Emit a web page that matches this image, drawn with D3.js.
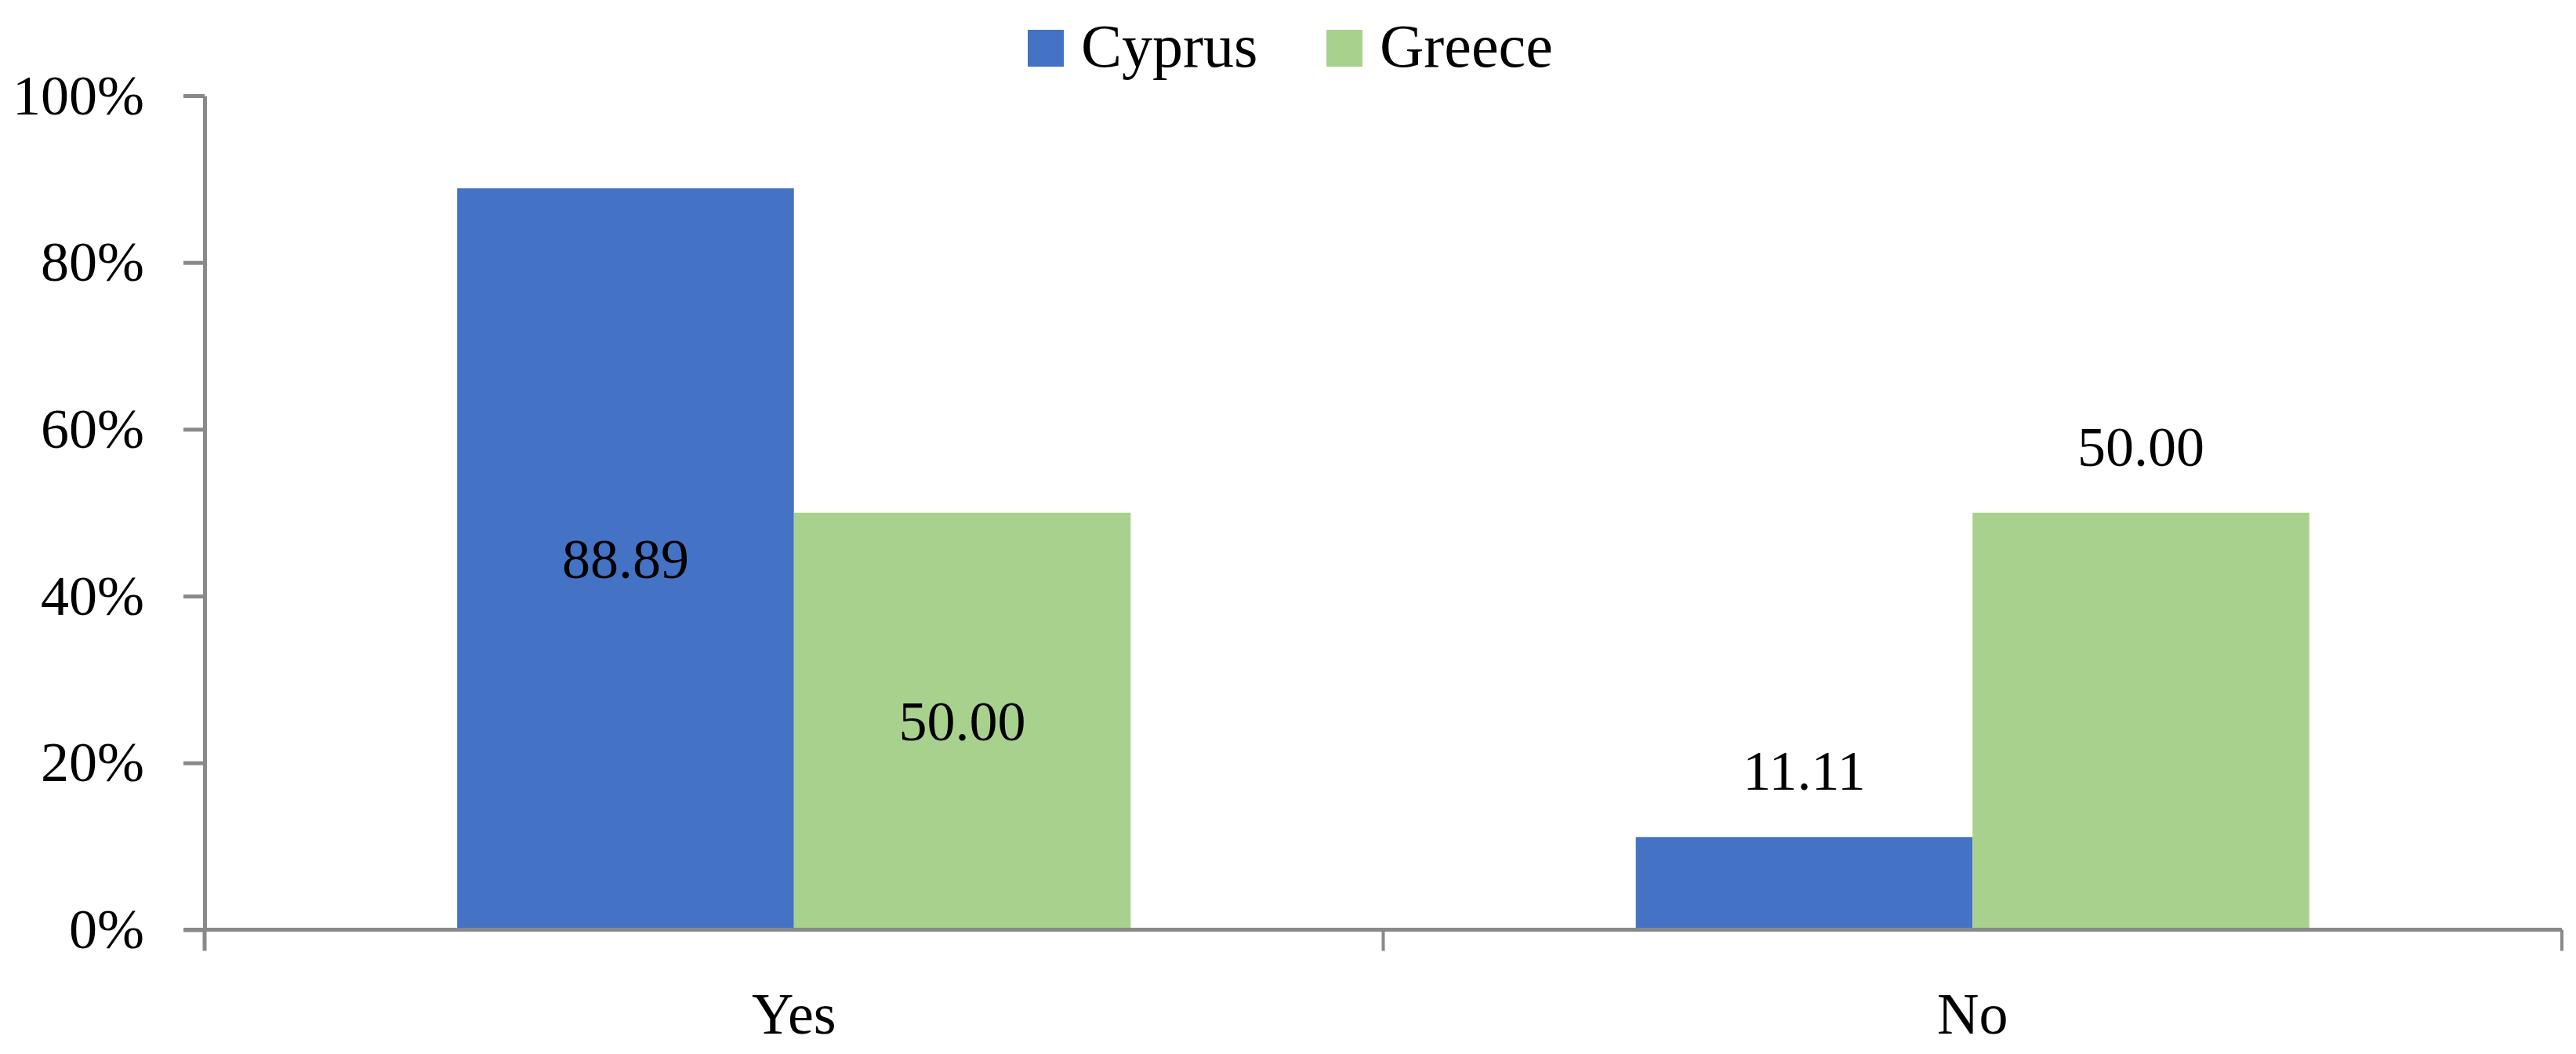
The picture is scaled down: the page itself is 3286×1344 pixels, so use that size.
<!DOCTYPE html>
<html>
<head>
<meta charset="utf-8">
<script src="https://cdn.jsdelivr.net/npm/d3@7"></script>
<style>
  html, body { margin: 0; padding: 0; background: #fff; }
  svg { display: block; }
  text { font-family: "Liberation Serif", "Times New Roman", serif; fill: #000; }
</style>
</head>
<body>
<script>
// ---- data ----
const categories = ["Yes", "No"];
const seriesNames = ["Cyprus", "Greece"];
const cyprusValues = [88.89, 11.11];
const greeceValues = [50.00, 50.00];
const labelPlacement = ["center", "outside"]; // per category
const yTicks = [0, 20, 40, 60, 80, 100];
const seriesColors = ["#4472C4", "#A9D18E"];

const seriesValues = [cyprusValues, greeceValues];

// ---- layout ----
const W = 3286, H = 1344;
const plot = { left: 261, right: 3268, top: 122, bottom: 1185.5 };
const axisColor = "#898989";

const svg = d3.select("body").append("svg")
  .attr("width", W).attr("height", H);

const x = d3.scaleBand().domain(categories).range([plot.left, plot.right]).paddingInner(0).paddingOuter(0);
const xs = d3.scaleBand().domain(seriesNames).range([0, x.bandwidth()]).paddingInner(0).paddingOuter(0.75);
const y = d3.scaleLinear().domain([0, 100]).range([plot.bottom, plot.top]);
const color = d3.scaleOrdinal().domain(seriesNames).range(seriesColors);

// ---- bars ----
const rows = [];
categories.forEach((c, ci) => {
  seriesNames.forEach((s, si) => {
    rows.push({ cat: c, series: s, value: seriesValues[si][ci], place: labelPlacement[ci] });
  });
});

svg.append("g").selectAll("rect").data(rows).join("rect")
  .attr("x", d => x(d.cat) + xs(d.series))
  .attr("y", d => y(d.value))
  .attr("width", xs.bandwidth())
  .attr("height", d => y(0) - y(d.value))
  .attr("fill", d => color(d.series));

// ---- y axis ----
const yAxis = d3.axisLeft(y).tickValues(yTicks).tickFormat(d => d + "%").tickSize(27).tickSizeOuter(0).tickPadding(50);
const gy = svg.append("g").attr("transform", `translate(${plot.left},0)`).call(yAxis);
gy.select(".domain").attr("stroke", axisColor).attr("stroke-width", 5);
gy.selectAll(".tick line").attr("stroke", axisColor).attr("stroke-width", 5);
gy.selectAll(".tick text").attr("font-size", 72).attr("font-family", "Liberation Serif").attr("fill", "#000");
// extend y axis line to bottom tick
svg.append("line")
  .attr("x1", plot.left).attr("x2", plot.left)
  .attr("y1", plot.bottom).attr("y2", plot.bottom + 27)
  .attr("stroke", axisColor).attr("stroke-width", 5);

// ---- x axis ----
svg.append("line")
  .attr("x1", plot.left - 27).attr("x2", plot.right)
  .attr("y1", plot.bottom).attr("y2", plot.bottom)
  .attr("stroke", axisColor).attr("stroke-width", 5);
const boundaries = categories.map(c => x(c)).concat([x.range()[1]]);
svg.append("g").selectAll("line").data(boundaries.slice(1)).join("line")
  .attr("x1", d => d).attr("x2", d => d)
  .attr("y1", plot.bottom).attr("y2", plot.bottom + 27)
  .attr("stroke", axisColor).attr("stroke-width", 4);
svg.append("g").selectAll("text").data(categories).join("text")
  .attr("x", d => x(d) + x.bandwidth() / 2)
  .attr("y", 1318)
  .attr("text-anchor", "middle")
  .attr("font-size", 74)
  .text(d => d);

// ---- data labels ----
svg.append("g").selectAll("text").data(rows).join("text")
  .attr("x", d => x(d.cat) + xs(d.series) + xs.bandwidth() / 2)
  .attr("y", d => d.place === "center"
      ? (y(d.value) + y(0)) / 2 + 24
      : y(d.value) - 60)
  .attr("text-anchor", "middle")
  .attr("font-size", 72)
  .text(d => d.value.toFixed(2));

// ---- legend ----
const legendX = [1311, 1692];
const lg = svg.append("g");
seriesNames.forEach((s, i) => {
  lg.append("rect").attr("x", legendX[i]).attr("y", 38).attr("width", 46).attr("height", 47).attr("fill", color(s));
  lg.append("text").attr("x", legendX[i] + 68).attr("y", 85).attr("font-size", 78).text(s);
});
</script>
</body>
</html>
